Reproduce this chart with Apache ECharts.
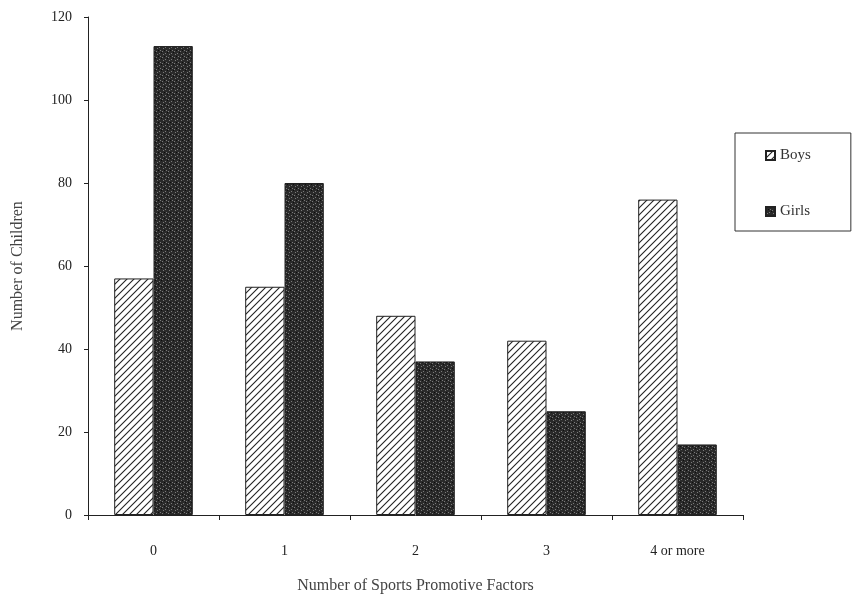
<!DOCTYPE html>
<html>
<head>
<meta charset="utf-8">
<script src="https://cdn.jsdelivr.net/npm/echarts@6/dist/echarts.min.js"></script>
<style>
html, body { margin: 0; padding: 0; background: #fff; }
#chart { width: 853px; height: 599px; }
</style>
</head>
<body>
<div id="chart"></div>
<script>
var categories = ['0', '1', '2', '3', '4 or more'];
var boys = [57, 55, 48, 42, 76];
var girls = [113, 80, 37, 25, 17];
var yTicks = [0, 20, 40, 60, 80, 100, 120];

// diagonal hatch for boys
function hatch() {
    var c = document.createElement('canvas');
    c.width = 7; c.height = 7;
    var g = c.getContext('2d');
    g.fillStyle = '#fff';
    g.fillRect(0, 0, 7, 7);
    g.strokeStyle = '#222';
    g.lineWidth = 1.1;
    g.beginPath();
    g.moveTo(-1, 8); g.lineTo(8, -1);
    g.moveTo(-1, 1); g.lineTo(1, -1);
    g.moveTo(6, 8); g.lineTo(8, 6);
    g.stroke();
    return c;
}

// dark speckled texture for girls
function speckle() {
    var c = document.createElement('canvas');
    c.width = 6; c.height = 6;
    var g = c.getContext('2d');
    g.fillStyle = '#2a2a2a';
    g.fillRect(0, 0, 6, 6);
    g.fillStyle = '#7a7a7a';
    g.fillRect(1, 0, 1, 1);
    g.fillRect(4, 2, 1, 1);
    g.fillRect(0, 3, 1, 1);
    g.fillRect(3, 5, 1, 1);
    g.fillStyle = '#0e0e0e';
    g.fillRect(2, 2, 1, 1);
    g.fillRect(5, 4, 1, 1);
    return c;
}

var myChart = echarts.init(document.getElementById('chart'));

var font = 'Liberation Serif';

option = {
    animation: false,
    grid: {
        left: 88,
        top: 17,
        right: 110,
        bottom: 82
    },
    legend: {
        orient: 'vertical',
        left: 735,
        top: 133,
        padding: [15, 40, 12, 30],
        itemGap: 41,
        itemWidth: 9,
        itemHeight: 9,
        icon: 'rect',
        borderColor: '#333',
        borderWidth: 1,
        textStyle: { fontFamily: font, fontSize: 15, color: '#333' },
        data: ['Boys', 'Girls']
    },
    xAxis: {
        type: 'category',
        data: categories,
        name: 'Number of Sports Promotive Factors',
        nameLocation: 'middle',
        nameGap: 63,
        nameTextStyle: { fontFamily: font, fontSize: 16, color: '#444' },
        axisLine: { lineStyle: { color: '#222', width: 1 } },
        axisTick: { show: true, length: 5, lineStyle: { color: '#222' } },
        axisLabel: { fontFamily: font, fontSize: 14, color: '#222', margin: 29 }
    },
    yAxis: {
        type: 'value',
        min: 0,
        max: 120,
        interval: 20,
        name: 'Number of Children',
        nameLocation: 'middle',
        nameGap: 62,
        nameTextStyle: { fontFamily: font, fontSize: 16, color: '#444' },
        splitLine: { show: false },
        axisLine: { show: true, lineStyle: { color: '#222', width: 1 } },
        axisTick: { show: true, length: 4, lineStyle: { color: '#222' } },
        axisLabel: {
            fontFamily: font, fontSize: 14, color: '#222', margin: 16,
            formatter: function (v) { return yTicks.indexOf(v) >= 0 ? String(v) : ''; }
        }
    },
    series: [
        {
            name: 'Boys',
            type: 'bar',
            data: boys,
            barGap: '0%',
            barCategoryGap: '40%',
            itemStyle: {
                color: { image: hatch(), repeat: 'repeat' },
                borderColor: '#222',
                borderWidth: 1
            }
        },
        {
            name: 'Girls',
            type: 'bar',
            data: girls,
            itemStyle: {
                color: { image: speckle(), repeat: 'repeat' },
                borderColor: '#222',
                borderWidth: 1
            }
        }
    ]
};

myChart.setOption(option);
</script>
</body>
</html>
